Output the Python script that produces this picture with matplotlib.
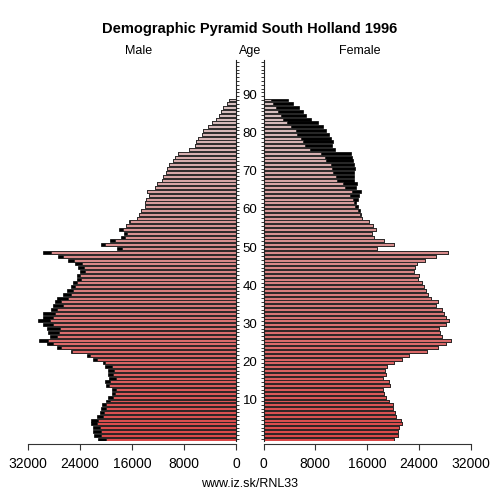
import numpy as np
import matplotlib
matplotlib.use('Agg')
import matplotlib.pyplot as plt
import matplotlib.transforms as mtransforms

plt.rcParams['font.family'] = ['Liberation Sans', 'DejaVu Sans']

ages = np.arange(0, 90)

male = [21190, 21850, 22050, 22050, 22360, 22360, 21340, 20920, 20820, 20660,
        20000, 19650, 19080, 19120, 20000, 20110, 19490, 19650, 19650, 20150,
        20420, 21950, 22880, 25430, 27490, 29030, 30260, 28620, 28880, 29120,
        29740, 30420, 29650, 29650, 28510, 28110, 27850, 27590, 26660, 26050,
        25430, 25030, 24420, 24510, 24000, 24260, 24770, 25800, 27340, 29740,
        18350, 20820, 19380, 17740, 17230, 17950, 16920, 16510, 15180, 14870,
        14560, 14050, 13950, 13850, 13340, 13650, 12510, 12200, 11380, 11180,
        10770, 10570, 10350, 9650, 9430, 8920, 7180, 6350, 6150, 5850,
        5230, 5030, 4310, 3690, 3080, 2660, 2260, 1950, 1430, 1120]

female = [20070, 20790, 20740, 20890, 21410, 21260, 20430, 20330, 19970, 19970,
          19410, 18890, 18640, 18490, 19570, 19410, 18490, 18890, 18740, 19100,
          20130, 21410, 22490, 25260, 26900, 28180, 28950, 27570, 27260, 27050,
          28180, 28540, 28180, 27820, 27570, 26650, 26900, 25870, 25410, 25000,
          24740, 24490, 23870, 23980, 23260, 23410, 23720, 24950, 26650, 28490,
          17570, 20130, 18640, 17000, 16800, 17410, 16900, 16280, 15200, 15100,
          14850, 14540, 14330, 14640, 14740, 15100, 14330, 14430, 14020, 13970,
          13970, 14130, 13920, 13820, 13720, 13560, 11050, 10640, 10750, 10440,
          10030, 9620, 9200, 8330, 7310, 6540, 6020, 5410, 4590, 3820]

x_ticks = [0, 8000, 16000, 24000, 32000]
age_labels = [10, 20, 30, 40, 50, 60, 70, 80, 90]

male = np.array(male)
female = np.array(female)
common = np.minimum(male, female)

# colour fades from red (young) to pale pink (old)
t = ages / ages.max()
bar_colors = np.column_stack([0.86 - 0.02 * t, 0.28 + 0.48 * t, 0.28 + 0.48 * t])

fig = plt.figure(figsize=(5, 5), dpi=100)
ax_l = fig.add_axes([0.056, 0.118, 0.416, 0.762])
ax_r = fig.add_axes([0.527, 0.118, 0.415, 0.762])

bh = 0.78
ax_l.barh(ages, male, height=bh, color='black', edgecolor='black', linewidth=0.5)
ax_l.barh(ages, common, height=bh, color=bar_colors, edgecolor='#222222', linewidth=0.6)
ax_r.barh(ages, female, height=bh, color='black', edgecolor='black', linewidth=0.5)
ax_r.barh(ages, common, height=bh, color=bar_colors, edgecolor='#222222', linewidth=0.6)

ax_l.set_xlim(32000, 0)
ax_r.set_xlim(0, 32000)
for ax in (ax_l, ax_r):
    ax.set_ylim(-0.5, 99.5)
    ax.set_xticks(x_ticks)
    ax.set_xticklabels([str(v) for v in x_ticks], fontsize=9)
    ax.tick_params(axis='x', length=4.5, width=0.8, pad=5, color='#333333')
    ax.spines['top'].set_visible(False)
    ax.spines['bottom'].set_position(('outward', 2))
    ax.spines['bottom'].set_bounds(0, 32000)
    ax.spines['bottom'].set_color('#333333')
    ax.set_yticks(np.arange(0, 100))
    ax.set_yticklabels([])

ax_l.spines['left'].set_visible(False)
ax_l.yaxis.tick_right()
ax_l.tick_params(axis='y', length=2.5, width=0.7, color='#333333', direction='out')
ax_r.spines['right'].set_visible(False)
ax_r.yaxis.tick_left()
ax_r.tick_params(axis='y', length=2.5, width=0.7, color='#333333', direction='out')
ax_l.spines['right'].set_color('#222222')
ax_r.spines['left'].set_color('#222222')

trans = mtransforms.blended_transform_factory(fig.transFigure, ax_l.transData)
for a in age_labels:
    fig.text(0.5, a, str(a), transform=trans, ha='center', va='center', fontsize=9.5)

fig.text(0.5, 0.942, 'Demographic Pyramid South Holland 1996', ha='center', va='center',
         fontsize=10.5, fontweight='bold')
fig.text(0.278, 0.898, 'Male', ha='center', va='center', fontsize=9)
fig.text(0.5, 0.898, 'Age', ha='center', va='center', fontsize=9)
fig.text(0.72, 0.898, 'Female', ha='center', va='center', fontsize=9)
fig.text(0.5, 0.032, 'www.iz.sk/RNL33', ha='center', va='center', fontsize=9)

fig.savefig('out.png', dpi=100)
